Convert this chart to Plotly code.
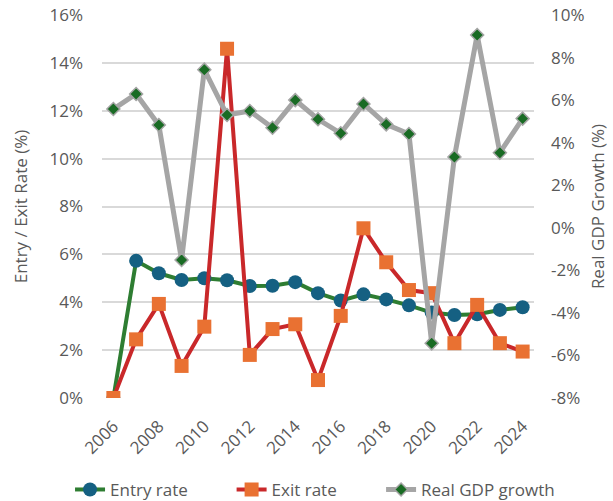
import plotly.graph_objects as go

years = list(range(2006, 2025))

entry_rate = [0.0, 5.73, 5.21, 4.93, 5.0, 4.92, 4.68, 4.69, 4.84, 4.38, 4.07,
              4.33, 4.12, 3.87, 3.57, 3.47, 3.5, 3.68, 3.79]
exit_rate = [0.0, 2.45, 3.93, 1.34, 2.98, 14.59, 1.8, 2.88, 3.08, 0.75, 3.43,
             7.09, 5.67, 4.51, 4.38, 2.29, 3.89, 2.29, 1.94]
gdp_growth = [5.58, 6.29, 4.83, -1.51, 7.43, 5.3, 5.49, 4.7, 6.0, 5.1, 4.44,
              5.82, 4.86, 4.41, -5.43, 3.33, 9.06, 3.53, 5.13]

left_ticks = list(range(0, 17, 2))
right_ticks = list(range(-8, 11, 2))
x_ticks = list(range(2006, 2025, 2))

FONT = "'Open Sans', sans-serif"
TXT = "#595959"

fig = go.Figure()
fig.add_trace(go.Scatter(
    x=years, y=entry_rate, name="Entry rate", mode="lines+markers",
    legend="legend",
    line=dict(color="#2E7D32", width=4),
    marker=dict(symbol="circle", size=14, color="#156082"),
))
fig.add_trace(go.Scatter(
    x=years, y=exit_rate, name="Exit rate", mode="lines+markers",
    legend="legend2",
    line=dict(color="#C9282A", width=4),
    marker=dict(symbol="square", size=14, color="#E97132"),
))
fig.add_trace(go.Scatter(
    x=years, y=gdp_growth, name="Real GDP growth", mode="lines+markers",
    yaxis="y2", legend="legend3",
    line=dict(color="#A5A5A5", width=5),
    marker=dict(symbol="diamond", size=10, color="#196B24",
                line=dict(color="#A5A5A5", width=1.5)),
))

# one legend box per series so the entries sit on a single spaced row
legend_common = dict(orientation="h", xanchor="left", y=-0.24,
                     yanchor="middle", font=dict(size=17, color=TXT),
                     bgcolor="rgba(0,0,0,0)")

fig.update_layout(
    width=613, height=501,
    margin=dict(l=102, r=79, t=15, b=103, autoexpand=False),
    paper_bgcolor="white", plot_bgcolor="white",
    font=dict(family=FONT, size=17, color=TXT),
    showlegend=True,
    legend=dict(x=-0.074, **legend_common),
    legend2=dict(x=0.30, **legend_common),
    legend3=dict(x=0.646, **legend_common),
    xaxis=dict(
        range=[2005.5, 2024.5], tickmode="array", tickvals=x_ticks,
        ticktext=[str(v) for v in x_ticks], tickangle=-45,
        showgrid=False, zeroline=False, showline=False, automargin=False,
        tickfont=dict(size=17, color=TXT), ticks="", ticklabelstandoff=14,
    ),
    yaxis=dict(
        range=[0, 16], tickmode="array", tickvals=left_ticks,
        ticktext=[f"{v}%" for v in left_ticks], automargin=False,
        showgrid=True, gridcolor="#D9D9D9", gridwidth=1.5, zeroline=False,
        showline=False, tickfont=dict(size=17, color=TXT),
        ticklabelstandoff=18,
        title=dict(text="Entry / Exit Rate (%)", font=dict(size=17, color=TXT),
                   standoff=17),
    ),
    yaxis2=dict(
        range=[-8, 10], tickmode="array", tickvals=right_ticks,
        ticktext=[f"{v}%" for v in right_ticks], automargin=False,
        overlaying="y", side="right", showgrid=False, zeroline=False,
        showline=False, tickfont=dict(size=17, color=TXT),
        ticklabelstandoff=16,
        title=dict(text="Real GDP Growth (%)", font=dict(size=17, color=TXT),
                   standoff=8),
    ),
)

fig.write_html("out.html")
